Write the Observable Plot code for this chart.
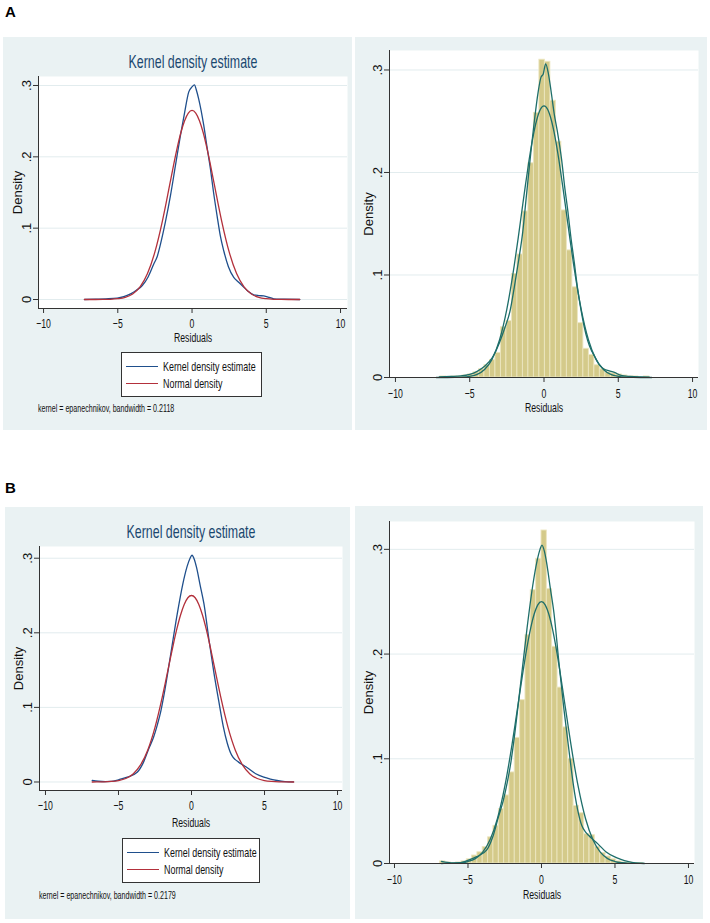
<!DOCTYPE html>
<html><head><meta charset="utf-8">
<script src="https://cdn.jsdelivr.net/npm/d3@7"></script>
<script src="https://cdn.jsdelivr.net/npm/@observablehq/plot@0.6"></script>
<style>
body{margin:0;background:#fff;width:710px;height:923px;position:relative;overflow:hidden;
 font-family:"Liberation Sans",Arial,sans-serif;}
.panel{position:absolute;background:#eaf2f3;}
.abs{position:absolute;white-space:nowrap;line-height:1;}
.plab{position:absolute;font-family:"Liberation Sans",Arial,sans-serif;font-weight:bold;font-size:15px;}
.title{color:#1a476f;font-size:18.5px;transform:translateX(-50%) scaleX(0.67);transform-origin:center;}
.legend{position:absolute;background:#fff;border:1px solid #333;box-sizing:border-box;}
.legline{position:absolute;height:0;border-top:1.4px solid;}
.legtxt{position:absolute;font-size:13.3px;line-height:1;white-space:nowrap;color:#111;transform:scaleX(0.67);transform-origin:left center;}
.cap{font-size:10.6px;color:#111;transform:scaleX(0.67);transform-origin:left center;}
</style></head><body>
<div class="plab" style="left:5px;top:3px;">A</div>
<div class="plab" style="left:5px;top:479px;">B</div>
<script>
// ---------- data ----------
const xTicks = [-10, -5, 0, 5, 10];
const yTicks = [0, 0.1, 0.2, 0.3];
const yTickLabels = ["0", ".1", ".2", ".3"];
const titleText = "Kernel density estimate";
const legendLabels = ["Kernel density estimate", "Normal density"];
const captionA = "kernel = epanechnikov, bandwidth = 0.2118";
const captionB = "kernel = epanechnikov, bandwidth = 0.2179";

// Panel A: kernel density estimate (left panel)
const kdeA = [[-7.24,0],[-6.5,0.0005],[-5.8,0.001],[-5.04,0.002],[-4.6,0.004],[-4.14,0.008],[-3.75,0.013],[-3.35,0.0196],[-2.95,0.032],[-2.57,0.05],[-2.35,0.06],[-2.12,0.078],[-1.8,0.108],[-1.45,0.146],[-1.1,0.19],[-0.78,0.23],[-0.5,0.262],[-0.22,0.291],[0,0.298],[0.16,0.301],[0.3,0.293],[0.45,0.281],[0.79,0.244],[1.0,0.215],[1.24,0.183],[1.45,0.15],[1.69,0.117],[1.9,0.09],[2.14,0.068],[2.45,0.046],[2.81,0.031],[3.1,0.025],[3.37,0.0196],[3.75,0.012],[4.16,0.0066],[4.5,0.0055],[4.83,0.005],[5.2,0.003],[5.5,0.001],[6.2,0.0005],[7.25,0]];
// Panel A: kernel density estimate (right panel overlay)
const kdeA2 = [[-7.05,0.0005],[-6.3,0.001],[-5.6,0.0015],[-5.0,0.003],[-4.5,0.006],[-4.0,0.011],[-3.5,0.019],[-3.0,0.034],[-2.6,0.05],[-2.3,0.064],[-2.0,0.088],[-1.7,0.115],[-1.43,0.142],[-1.2,0.175],[-0.99,0.205],[-0.65,0.25],[-0.4,0.278],[-0.2,0.293],[-0.05,0.296],[0.11,0.306],[0.3,0.296],[0.47,0.28],[0.69,0.257],[0.9,0.24],[1.19,0.212],[1.4,0.185],[1.6,0.163],[1.8,0.138],[2.04,0.112],[2.25,0.088],[2.49,0.066],[2.7,0.05],[2.94,0.036],[3.2,0.026],[3.39,0.021],[3.7,0.013],[4.06,0.008],[4.4,0.0065],[4.74,0.005],[5.19,0.002],[5.8,0.001],[6.5,0.0005],[7.09,0.0003]];
// Panel A: normal density
const normalA = [[-7.25,0],[-6.5,0],[-6,0.0001],[-5.5,0.0003],[-5,0.0011],[-4.5,0.003],[-4,0.0078],[-3.5,0.0177],[-3,0.0363],[-2.5,0.0667],[-2,0.1096],[-1.75,0.1348],[-1.5,0.1613],[-1.25,0.1877],[-1,0.2125],[-0.75,0.2341],[-0.5,0.2507],[-0.25,0.2614],[0,0.265],[0.25,0.2614],[0.5,0.2507],[0.75,0.2341],[1,0.2125],[1.25,0.1877],[1.5,0.1613],[1.75,0.1348],[2,0.1096],[2.5,0.0667],[3,0.0363],[3.5,0.0177],[4,0.0078],[4.5,0.003],[5,0.0011],[5.5,0.0003],[6,0.0001],[6.5,0],[7.25,0]];
// Panel A: histogram bin left edges and densities
const binsA = [-6.97,-6.60,-6.23,-5.86,-5.49,-5.12,-4.75,-4.38,-4.01,-3.64,-3.27,-2.90,-2.53,-2.16,-1.79,-1.42,-1.05,-0.68,-0.31,0.06,0.43,0.80,1.17,1.54,1.91,2.28,2.65,3.02,3.39,3.76,4.13,4.50,4.87,5.24,5.61,5.98,6.35,6.72];
const binWidthA = 0.37;
const histA = [0.001,0,0.001,0.001,0.002,0.003,0.005,0.008,0.012,0.017,0.024,0.049,0.055,0.101,0.120,0.162,0.209,0.258,0.310,0.308,0.270,0.230,0.163,0.124,0.088,0.053,0.028,0.022,0.012,0.008,0.005,0.004,0.003,0.002,0.001,0.001,0,0.001];

// Panel B: kernel density estimate
const kdeB = [[-6.8,0.002],[-6.4,0.001],[-5.9,0.0005],[-5.5,0.0007],[-5.0,0.003],[-4.4,0.0065],[-3.72,0.013],[-3.3,0.026],[-2.92,0.045],[-2.6,0.06],[-2.35,0.076],[-2.1,0.095],[-1.9,0.115],[-1.45,0.168],[-0.98,0.225],[-0.6,0.265],[-0.3,0.289],[-0.1,0.3],[0.03,0.304],[0.2,0.298],[0.34,0.288],[0.6,0.263],[0.85,0.239],[1.2,0.19],[1.53,0.147],[1.87,0.108],[2.17,0.075],[2.45,0.052],[2.75,0.036],[3.0,0.03],[3.2,0.027],[3.5,0.023],[3.82,0.019],[4.4,0.011],[4.95,0.0065],[5.4,0.004],[5.86,0.002],[6.4,0.0006],[6.98,0.0002]];
// Panel B: normal density
const normalB = [[-6.8,0],[-6.5,0.0001],[-6,0.0002],[-5.5,0.0007],[-5,0.0019],[-4.5,0.0047],[-4,0.0108],[-3.5,0.0226],[-3,0.0427],[-2.5,0.0733],[-2,0.114],[-1.75,0.1371],[-1.5,0.1607],[-1.25,0.184],[-1,0.2055],[-0.75,0.2239],[-0.5,0.238],[-0.25,0.247],[0,0.25],[0.25,0.247],[0.5,0.238],[0.75,0.2239],[1,0.2055],[1.25,0.184],[1.5,0.1607],[1.75,0.1371],[2,0.114],[2.5,0.0733],[3,0.0427],[3.5,0.0226],[4,0.0108],[4.5,0.0047],[5,0.0019],[5.5,0.0007],[6,0.0002],[6.5,0.0001],[7.0,0]];
// Panel B: histogram bin left edges and densities
const binsB = [-6.90,-6.53,-6.17,-5.81,-5.45,-5.08,-4.72,-4.36,-4.00,-3.63,-3.27,-2.90,-2.54,-2.18,-1.82,-1.45,-1.09,-0.73,-0.36,0,0.36,0.73,1.09,1.45,1.82,2.18,2.54,2.90,3.27,3.63,4.00,4.36,4.72,5.08,5.45,5.81,6.17,6.53];
const binWidthB = 0.363;
const histB = [0.002,0.001,0.0005,0.001,0.002,0.004,0.0076,0.0107,0.0156,0.025,0.036,0.052,0.065,0.087,0.120,0.156,0.218,0.261,0.291,0.318,0.262,0.207,0.168,0.130,0.100,0.055,0.048,0.028,0.027,0.016,0.010,0.0067,0.004,0.002,0.001,0.001,0.0005,0.0005];

// ---------- styles ----------
const GRID = "#e2ecee", AXIS = "#333333";
const BLUE = "#1f4f8c", RED = "#b3303b", TEAL = "#1e6e6a";
const BAR = "#d4ca8a", BAR_EDGE = "#ece6c0";
const FONT = '"Liberation Sans",Arial,sans-serif';
const SQUEEZE = 0.67; // horizontal squeeze for upright text (narrow Stata font)
const SVGNS = "http://www.w3.org/2000/svg";

function fmtY(d){ return yTickLabels[yTicks.indexOf(d)] ?? String(d); }

// squeeze upright SVG texts horizontally about their own centre
function squeezeText(svg){
  const texts = [...svg.querySelectorAll("text")];
  for (const t of texts) {
    if ((t.getAttribute("transform") || "").includes("rotate")) continue;
    const r = t.getBoundingClientRect();
    if (!r.width) continue;
    const parent = t.parentNode;
    const m = parent.getScreenCTM().inverse();
    const p = new DOMPoint(r.left + r.width / 2, r.top).matrixTransform(m);
    const g = document.createElementNS(SVGNS, "g");
    g.setAttribute("transform", `translate(${p.x},0) scale(${SQUEEZE},1) translate(${-p.x},0)`);
    parent.insertBefore(g, t);
    g.appendChild(t);
  }
}

function panel(o){
  const div = document.createElement("div");
  div.className = "panel";
  Object.assign(div.style, {left:o.left+"px", top:o.top+"px", width:o.w+"px", height:o.h+"px"});
  document.body.appendChild(div);
  const marks = [
    Plot.frame({fill:"white", stroke:"none"}),
    Plot.gridY(yTicks, {stroke:GRID, strokeOpacity:1, strokeWidth:1})
  ];
  if (o.bins) {
    const rows = o.bins.map((x, i) => ({x1:x, x2:x + o.binWidth, y:o.hist[i]}));
    marks.push(Plot.rectY(rows, {x1:"x1", x2:"x2", y1:0, y2:"y", fill:BAR, stroke:BAR_EDGE, strokeWidth:0.9}));
  }
  for (const s of o.series) {
    marks.push(Plot.line(s.data, {x:d=>d[0], y:d=>d[1], stroke:s.color, strokeWidth:1.3, curve:"monotone-x"}));
  }
  marks.push(
    Plot.ruleX([o.x[0]], {stroke:AXIS, strokeWidth:1}),
    Plot.ruleY([o.y[0]], {stroke:AXIS, strokeWidth:1}),
    Plot.axisX(xTicks, {tickSize:5, tickPadding:o.xPad, fontSize:13, label:"Residuals", labelAnchor:"center", labelArrow:"none", labelOffset:o.xLabelOffset, stroke:AXIS}),
    Plot.axisY(yTicks, {tickSize:5, tickPadding:3, tickRotate:-90, tickFormat:fmtY, fontSize:13, label:"Density", labelAnchor:"center", labelArrow:"none", labelOffset:o.yLabelOffset, stroke:AXIS})
  );
  const svg = Plot.plot({
    width:o.w, height:o.h,
    marginLeft:o.m[0], marginTop:o.m[1], marginRight:o.m[2], marginBottom:o.m[3],
    x:{domain:o.x}, y:{domain:o.y},
    style:{background:"transparent", fontFamily:FONT, color:"#111", overflow:"visible"},
    marks
  });
  svg.style.position = "absolute"; svg.style.left = "0px"; svg.style.top = "0px";
  div.appendChild(svg);
  squeezeText(svg);
  if (o.title) {
    const t = document.createElement("div");
    t.className = "abs title"; t.textContent = o.title;
    t.style.left = (o.m[0] + (o.w - o.m[0] - o.m[2]) / 2) + "px";
    t.style.top = (o.titleY - 10) + "px";
    div.appendChild(t);
  }
  if (o.legend) {
    const L = o.legend;
    const lg = document.createElement("div");
    lg.className = "legend";
    Object.assign(lg.style, {left:L.left+"px", top:L.top+"px", width:L.w+"px", height:L.h+"px"});
    [[BLUE, legendLabels[0], 14], [RED, legendLabels[1], 31]].forEach(([c, txt, y]) => {
      const ln = document.createElement("div");
      ln.className = "legline";
      Object.assign(ln.style, {left:"4px", width:"32px", top:(y-1)+"px", borderTopColor:c});
      lg.appendChild(ln);
      const tx = document.createElement("div");
      tx.className = "legtxt"; tx.textContent = txt;
      Object.assign(tx.style, {left:"41px", top:(y-7)+"px"});
      lg.appendChild(tx);
    });
    div.appendChild(lg);
  }
  if (o.caption) {
    const c = document.createElement("div");
    c.className = "abs cap"; c.textContent = o.caption;
    Object.assign(c.style, {left:o.m[0]+"px", top:(o.captionY - 6)+"px"});
    div.appendChild(c);
  }
}

// Panel A, left
panel({left:3, top:37, w:349, h:393, m:[35,39,5,122], x:[-10.34,10.47], y:[-0.0126,0.3126],
  series:[{data:kdeA, color:BLUE},{data:normalA, color:RED}],
  title:titleText, titleY:26, legend:{left:118, top:315, w:141, h:45}, caption:captionA, captionY:372,
  xPad:5, xLabelOffset:33, yLabelOffset:26});
// Panel A, right
panel({left:355, top:37, w:352, h:393, m:[34,13,9,53], x:[-10.40,10.40], y:[0,0.319],
  bins:binsA, binWidth:binWidthA, hist:histA,
  series:[{data:kdeA2, color:TEAL},{data:normalA, color:TEAL}],
  xPad:6, xLabelOffset:34, yLabelOffset:26});
// Panel B, left
panel({left:5, top:507, w:345, h:412, m:[34,39,8,129], x:[-10.41,10.34], y:[-0.0114,0.3157],
  series:[{data:kdeB, color:BLUE},{data:normalB, color:RED}],
  title:titleText, titleY:26, legend:{left:117, top:331, w:138, h:45}, caption:captionB, captionY:389,
  xPad:5, xLabelOffset:36, yLabelOffset:26});
// Panel B, right
panel({left:355, top:506, w:348, h:413, m:[34,15,9,56], x:[-10.34,10.41], y:[0,0.3266],
  bins:binsB, binWidth:binWidthB, hist:histB,
  series:[{data:kdeB, color:TEAL},{data:normalB, color:TEAL}],
  xPad:6, xLabelOffset:35, yLabelOffset:26});
</script>
</body></html>
